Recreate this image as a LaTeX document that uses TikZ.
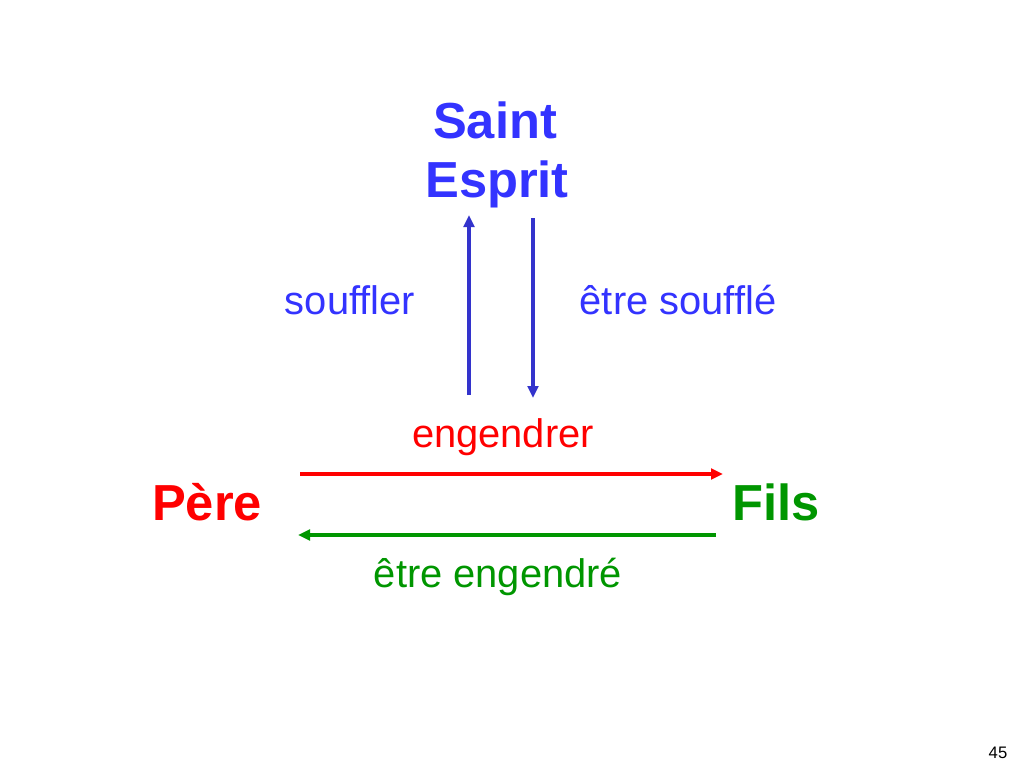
\documentclass[tikz,border=0pt]{standalone}
\usepackage{fontspec}
\setmainfont[Ligatures=NoCommon]{Liberation Sans}
\usetikzlibrary{arrows.meta}
\definecolor{tblue}{RGB}{51,51,255}
\definecolor{ablue}{RGB}{51,51,204}
\definecolor{tred}{RGB}{255,0,0}
\definecolor{tgreen}{RGB}{0,150,0}
\tikzset{
  big/.style={font=\fontsize{38}{45}\selectfont\bfseries, inner sep=0pt, anchor=base},
  lbl/.style={font=\fontsize{29.9}{36}\selectfont, inner sep=0pt, anchor=base},
  arr/.style={line width=2.4pt, -{Triangle[length=9pt,width=8pt]}}
}
\begin{document}
\begin{tikzpicture}[x=0.75pt,y=-0.75pt]
\useasboundingbox (0,0) rectangle (1024,768);
\node[big, text=tblue] (saint) at (495,138) {Saint};
\node[big, text=tblue] (esprit) at (497,197) {Esprit};
\node[big, text=tred] (pere) at (207,520) {Père};
\node[big, text=tgreen] (fils) at (776,520) {Fils};
\node[lbl, text=tblue] (souffler) at (350,314) {souffler};
\node[lbl, text=tblue] (etresouffle) at (678,314) {être soufflé};
\node[lbl, text=tred] (engendrer) at (503,447) {engendrer};
\node[lbl, text=tgreen] (etreengendre) at (498,587) {être engendré};
\node[font=\fontsize{12.5}{15}\selectfont, inner sep=0pt, anchor=base] (num) at (998,758) {45};
\coordinate (u1) at (469,395);
\coordinate (u2) at (469,215);
\coordinate (d1) at (533,218);
\coordinate (d2) at (533,398);
\coordinate (r1) at (300,474);
\coordinate (r2) at (723,474);
\coordinate (g1) at (716,535);
\coordinate (g2) at (298,535);
\draw[arr, ablue] (u1) -- (u2);
\draw[arr, ablue] (d1) -- (d2);
\draw[arr, tred] (r1) -- (r2);
\draw[arr, tgreen] (g1) -- (g2);
\end{tikzpicture}
\end{document}
